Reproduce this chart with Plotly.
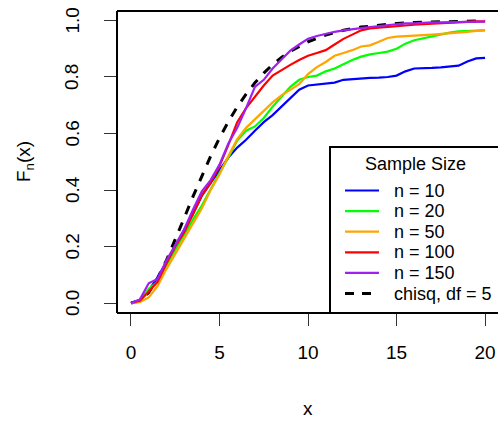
import plotly.graph_objects as go

# ---------------- data ----------------
x_grid = [0, 0.5, 1, 1.5, 2, 2.5, 3, 3.5, 4, 4.5, 5, 5.5, 6, 6.5, 7, 7.5, 8, 8.5, 9, 9.5,
          10, 10.5, 11, 11.5, 12, 12.5, 13, 13.5, 14, 14.5, 15, 15.5, 16, 16.5, 17, 17.5,
          18, 18.5, 19, 19.5, 20]

n10 = [0, 0.01, 0.045, 0.09, 0.145, 0.2, 0.255, 0.315, 0.38, 0.425, 0.47, 0.515, 0.55, 0.578,
       0.61, 0.64, 0.665, 0.695, 0.725, 0.755, 0.77, 0.773, 0.775, 0.78, 0.79, 0.793, 0.796,
       0.797, 0.798, 0.80, 0.805, 0.82, 0.83, 0.83, 0.832, 0.834, 0.836, 0.84, 0.855, 0.866, 0.868]
n20 = [0, 0.005, 0.05, 0.075, 0.135, 0.19, 0.24, 0.295, 0.345, 0.405, 0.46, 0.515, 0.575, 0.61,
       0.625, 0.655, 0.695, 0.73, 0.765, 0.79, 0.80, 0.805, 0.82, 0.83, 0.845, 0.86, 0.872, 0.88,
       0.885, 0.89, 0.90, 0.918, 0.93, 0.937, 0.945, 0.95, 0.957, 0.962, 0.963, 0.964, 0.965]
n50 = [0, 0.003, 0.02, 0.06, 0.12, 0.175, 0.225, 0.28, 0.335, 0.40, 0.455, 0.52, 0.58, 0.62,
       0.65, 0.68, 0.71, 0.735, 0.755, 0.775, 0.81, 0.835, 0.853, 0.875, 0.885, 0.895, 0.908,
       0.912, 0.925, 0.938, 0.943, 0.944, 0.946, 0.948, 0.95, 0.952, 0.955, 0.957, 0.96, 0.963, 0.966]
n100 = [0, 0.008, 0.04, 0.075, 0.14, 0.2, 0.25, 0.315, 0.38, 0.425, 0.485, 0.56, 0.64, 0.69,
        0.73, 0.77, 0.805, 0.825, 0.843, 0.86, 0.875, 0.885, 0.895, 0.915, 0.935, 0.95, 0.965,
        0.972, 0.975, 0.977, 0.98, 0.983, 0.985, 0.987, 0.989, 0.99, 0.991, 0.993, 0.995, 0.997, 0.997]
n150 = [0, 0.012, 0.07, 0.085, 0.15, 0.205, 0.26, 0.33, 0.395, 0.435, 0.49, 0.565, 0.62, 0.69,
        0.765, 0.79, 0.83, 0.862, 0.893, 0.915, 0.935, 0.945, 0.953, 0.96, 0.965, 0.97, 0.973,
        0.977, 0.98, 0.984, 0.987, 0.99, 0.99, 0.992, 0.993, 0.993, 0.994, 0.995, 0.995, 0.996, 0.996]

chisq_x = [0, 0.5, 1, 1.5, 2, 2.5, 3, 3.5, 4, 4.5, 5, 5.5, 6, 6.5, 7, 7.5, 8, 8.5, 9, 9.5,
           10, 11, 12, 13, 14, 15, 16, 18, 20]
chisq_y = [0, 0.0079, 0.0374, 0.0869, 0.1509, 0.2235, 0.3000, 0.3766, 0.4506, 0.5201, 0.5841,
           0.6421, 0.6938, 0.7394, 0.7794, 0.8140, 0.8438, 0.8693, 0.8909, 0.9093, 0.9248,
           0.9486, 0.9652, 0.9766, 0.9844, 0.9896, 0.9932, 0.9970, 0.9987]

series_names = ["n = 10", "n = 20", "n = 50", "n = 100", "n = 150"]
series_vals = [n10, n20, n50, n100, n150]
series_colors = ["#0000FF", "#00FF00", "#FFA500", "#FF0000", "#A020F0"]
ref_name = "chisq, df = 5"
legend_title = "Sample Size"
x_ticks = [0, 5, 10, 15, 20]
y_ticks = [0.0, 0.2, 0.4, 0.6, 0.8, 1.0]
y_tick_text = ["0.0", "0.2", "0.4", "0.6", "0.8", "1.0"]

# ---------------- layout geometry ----------------
W, H = 498, 421
L, R, T, B = 117, 0, 11, 108
PW = W - L - R
PH = H - T - B
FONT = "Liberation Sans, Arial, Helvetica, sans-serif"


def px(xp):
    return (xp - L) / PW


def py(yp):
    return (T + PH - yp) / PH


fig = go.Figure()

fig.add_trace(go.Scatter(x=chisq_x, y=chisq_y, mode="lines", name=ref_name,
                         line=dict(color="black", width=3, dash="9px,9px"),
                         showlegend=False))
for name, vals, col in zip(series_names, series_vals, series_colors):
    fig.add_trace(go.Scatter(x=x_grid, y=vals, mode="lines", name=name,
                             line=dict(color=col, width=2.2), showlegend=False))

shapes = []
# frame (right side lies beyond the page, as in the reference)
shapes.append(dict(type="line", xref="paper", yref="paper", x0=0, x1=0, y0=0, y1=1,
                   line=dict(color="black", width=2)))
shapes.append(dict(type="line", xref="paper", yref="paper", x0=0, x1=1.05, y0=1, y1=1,
                   line=dict(color="black", width=2)))
shapes.append(dict(type="line", xref="paper", yref="paper", x0=0, x1=1.05, y0=0, y1=0,
                   line=dict(color="black", width=2)))

# legend box
lg_left, lg_top = 330, 147
shapes.append(dict(type="rect", xref="paper", yref="paper", x0=px(lg_left), x1=1.05,
                   y0=0, y1=py(lg_top), line=dict(color="black", width=2),
                   fillcolor="white", layer="above"))

annotations = []
annotations.append(dict(xref="paper", yref="paper", x=px(415), y=py(164), text=legend_title,
                        showarrow=False, xanchor="center", yanchor="middle",
                        font=dict(family=FONT, size=18, color="black")))
row0, drow = 190.5, 20.6
names_all = series_names + [ref_name]
colors_all = series_colors + ["black"]
for i, (nm, col) in enumerate(zip(names_all, colors_all)):
    yy = row0 + i * drow
    if nm == ref_name:
        shapes.append(dict(type="line", xref="paper", yref="paper", x0=px(345), x1=px(379),
                           y0=py(yy), y1=py(yy), layer="above",
                           line=dict(color=col, width=3, dash="9px,8px")))
    else:
        shapes.append(dict(type="line", xref="paper", yref="paper", x0=px(345), x1=px(379),
                           y0=py(yy), y1=py(yy), layer="above",
                           line=dict(color=col, width=2.2)))
    annotations.append(dict(xref="paper", yref="paper", x=px(392), y=py(yy), text=nm,
                            showarrow=False, xanchor="left", yanchor="middle",
                            font=dict(family=FONT, size=18, color="black")))

# y tick labels (rotated, placed like R's axis labels)
for v, t in zip(y_ticks, y_tick_text):
    annotations.append(dict(xref="paper", yref="y", x=px(72), y=v, text=t, textangle=-90,
                            showarrow=False, xanchor="center", yanchor="middle",
                            font=dict(family=FONT, size=19, color="black")))

# axis titles
annotations.append(dict(xref="paper", yref="paper", x=px(308), y=py(408), text="x",
                        showarrow=False, xanchor="center", yanchor="middle",
                        font=dict(family=FONT, size=19, color="black")))
annotations.append(dict(xref="paper", yref="paper", x=px(25), y=py(162),
                        text="F<sub>n</sub>(x)", textangle=-90,
                        showarrow=False, xanchor="center", yanchor="middle",
                        font=dict(family=FONT, size=19, color="black")))

fig.update_layout(
    width=W, height=H,
    margin=dict(l=L, r=R, t=T, b=B, pad=0),
    paper_bgcolor="white", plot_bgcolor="white",
    showlegend=False,
    shapes=shapes, annotations=annotations,
    font=dict(family=FONT, size=19, color="black"),
    xaxis=dict(range=[-0.79, 20.73], tickvals=x_ticks, ticks="outside", ticklen=12,
               tickwidth=1, tickcolor="#333", showgrid=False, zeroline=False,
               showline=False, ticklabelstandoff=10,
               tickfont=dict(family=FONT, size=19, color="black")),
    yaxis=dict(range=[-0.0354, 1.0336], tickvals=y_ticks, showticklabels=False,
               ticks="outside", ticklen=12, tickwidth=1, tickcolor="#333",
               showgrid=False, zeroline=False, showline=False),
)

fig.write_html("out.html")
